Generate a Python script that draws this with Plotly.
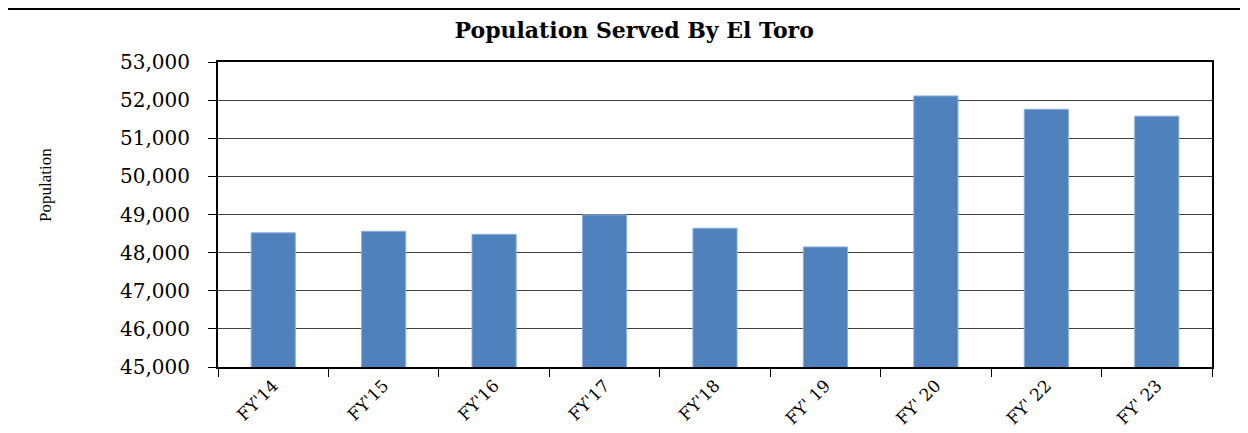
import plotly.graph_objects as go

categories = ["FY'14", "FY'15", "FY'16", "FY'17", "FY'18", "FY' 19", "FY' 20", "FY' 22", "FY' 23"]
population = [48520, 48560, 48480, 48990, 48640, 48150, 52110, 51760, 51580]
y_ticks = [45000, 46000, 47000, 48000, 49000, 50000, 51000, 52000, 53000]
y_tick_labels = [f"{v:,}" for v in y_ticks]

# page body has an 8px margin; compensate
W, H = 1240, 425
L, R, T, B = 210, 36, 54, 66
plot_w = W - L - R
plot_h = H - T - B

fig = go.Figure()
fig.add_trace(go.Bar(
    x=categories, y=population,
    marker=dict(color="#4F81BD", line=dict(color="#8DB0DC", width=1)),
))

fig.update_layout(
    width=W, height=H,
    margin=dict(l=L, r=R, t=T, b=B),
    paper_bgcolor="white", plot_bgcolor="white",
    bargap=0.6,
    showlegend=False,
    title=dict(text="<b>Population Served By El Toro</b>", x=0.505, xanchor="center",
               y=1 - 22 / H, yanchor="middle",
               font=dict(family="DejaVu Serif", size=22, color="black")),
    font=dict(family="Liberation Serif", color="black"),
)

fig.update_xaxes(
    type="category", tickson="boundaries", ticks="outside", ticklen=8, tickcolor="black",
    tickangle=-45, tickfont=dict(family="DejaVu Serif", size=17, color="black"),
    showline=True, linecolor="black", linewidth=2, mirror=True, showgrid=False,
    automargin=False,
)
fig.update_yaxes(
    range=[45000, 53000], tickvals=y_ticks, ticktext=y_tick_labels,
    ticks="outside", ticklen=8, tickcolor="black",
    tickfont=dict(family="DejaVu Serif", size=20, color="black"),
    ticklabelstandoff=14,
    showline=True, linecolor="black", linewidth=2, mirror=True,
    showgrid=True, gridcolor="#404040", gridwidth=1,
    automargin=False,
)

fig.add_annotation(
    text="Population", textangle=-90, showarrow=False,
    xref="paper", yref="paper",
    x=(37 - L) / plot_w, y=(T + plot_h - 177) / plot_h,
    xanchor="center", yanchor="middle",
    font=dict(family="Liberation Serif", size=17, color="black"),
)

fig.add_shape(type="line", xref="paper", yref="paper",
              x0=-L / plot_w, x1=(W - L) / plot_w,
              y0=1 + (T - 1) / plot_h, y1=1 + (T - 1) / plot_h,
              line=dict(color="black", width=2))

fig.write_html("out.html")
